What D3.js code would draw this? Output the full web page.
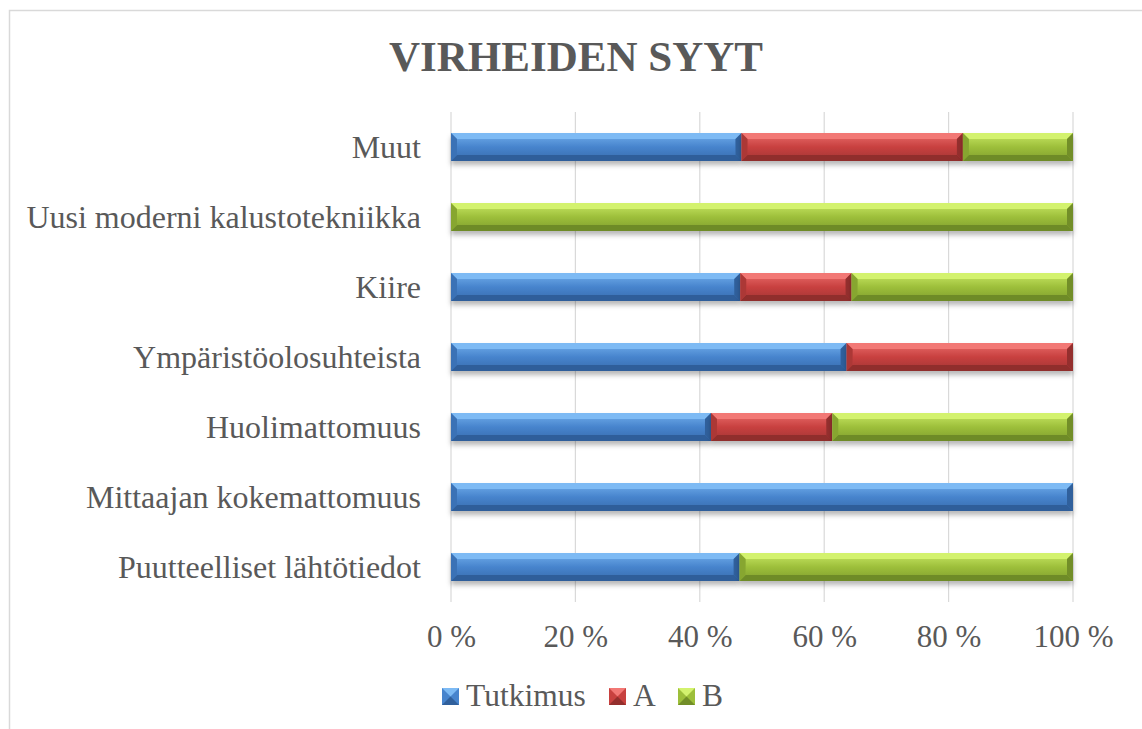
<!DOCTYPE html>
<html><head><meta charset="utf-8">
<script src="https://cdn.jsdelivr.net/npm/d3@7"></script>
<style>body{margin:0;background:#fff}svg{display:block}</style>
</head><body>
<svg id="chart" width="1142" height="729"></svg>
<script>
const categories = ["Muut","Uusi moderni kalustotekniikka","Kiire","Ympäristöolosuhteista","Huolimattomuus","Mittaajan kokemattomuus","Puutteelliset lähtötiedot"];
const seriesNames = ["Tutkimus","A","B"];
const tutkimus = [46.7, 0, 46.5, 63.6, 41.8, 100, 46.4];
const seriesA  = [35.6, 0, 17.9, 36.4, 19.5, 0, 0];
const seriesB  = [17.7, 100, 35.6, 0, 38.7, 0, 53.6];
const tickValues = [0, 0.2, 0.4, 0.6, 0.8, 1.0];
const tickLabels = ["0 %","20 %","40 %","60 %","80 %","100 %"];
const title = "VIRHEIDEN SYYT";

const palette = {
  Tutkimus: {mid:"#4784cd", top:"#7dbaf4", bot:"#3466a6", dark:"#275188"},
  A:        {mid:"#c8413f", top:"#f27875", bot:"#9a3331", dark:"#7e2826"},
  B:        {mid:"#9dbf3a", top:"#d3f26e", bot:"#78962a", dark:"#5f7921"}
};
const FONT = "'Liberation Serif','Times New Roman',serif";

const svg = d3.select("#chart");
const defs = svg.append("defs");
const f = defs.append("filter").attr("id","shadow").attr("x","-5%").attr("y","-30%").attr("width","110%").attr("height","180%");
f.append("feDropShadow").attr("dx",0).attr("dy",4).attr("stdDeviation",2.5).attr("flood-color","#000").attr("flood-opacity",0.28);

seriesNames.forEach(n => {
  const c = palette[n];
  const g = defs.append("linearGradient").attr("id","g_"+n).attr("x1",0).attr("y1",0).attr("x2",0).attr("y2",1);
  [[0,c.top],[0.5,c.mid],[1,c.bot]].forEach(s=>g.append("stop").attr("offset",s[0]).attr("stop-color",s[1]));
});

// frame
svg.append("path").attr("d","M9.5,740 L9.5,10.5 L1150,10.5").attr("fill","none").attr("stroke","#d9d9d9").attr("stroke-width",1.5);

const x = d3.scaleLinear().domain([0,1]).range([451,1073]);
const y = d3.scaleBand().domain(categories).range([112,602]).paddingInner(0.6).paddingOuter(0.3);

// gridlines
svg.append("g").selectAll("line").data(tickValues).join("line")
  .attr("x1",d=>x(d)).attr("x2",d=>x(d)).attr("y1",112).attr("y2",602)
  .attr("stroke","#d9d9d9").attr("stroke-width",1.2);

// axis
const axis = d3.axisBottom(x).tickValues(tickValues).tickFormat((d,i)=>tickLabels[i]).tickSize(0).tickPadding(0);
const ax = svg.append("g").attr("transform","translate(0,647)").call(axis);
ax.select(".domain").remove();
ax.selectAll("text").attr("dy",0).attr("font-family",FONT).attr("font-size",31).attr("fill","#595959");

// category labels
const yAxis = d3.axisLeft(y).tickSize(0).tickPadding(0);
const ay = svg.append("g").attr("transform","translate(421,0)").call(yAxis);
ay.select(".domain").remove();
ay.selectAll("text").attr("dy","0.34em").attr("font-family",FONT).attr("font-size",32).attr("fill","#595959");

// stacked data
const rows = categories.map((c,i)=>({cat:c, Tutkimus:tutkimus[i]/100, A:seriesA[i]/100, B:seriesB[i]/100}));
const stack = d3.stack().keys(seriesNames)(rows);

const bars = svg.append("g");
stack.forEach(layer => {
  const n = layer.key, c = palette[n];
  layer.forEach(d => {
    const w = d[1]-d[0];
    if (w <= 0) return;
    const x0 = x(d[0]), x1 = x(d[1]), y0 = y(d.data.cat), h = y.bandwidth(), y1 = y0+h;
    const b = 6;
    const g = bars.append("g");
    g.append("rect").attr("x",x0).attr("y",y0).attr("width",x1-x0).attr("height",h)
      .attr("fill",c.mid).attr("filter","url(#shadow)");
    g.append("rect").attr("x",x0+b).attr("y",y0+b).attr("width",x1-x0-2*b).attr("height",h-2*b)
      .attr("fill","url(#g_"+n+")").attr("opacity",0.45);
    // bevels
    g.append("path").attr("d",`M${x0},${y0} L${x1},${y0} L${x1-b},${y0+b} L${x0+b},${y0+b} Z`).attr("fill",c.top);
    g.append("path").attr("d",`M${x0},${y1} L${x1},${y1} L${x1-b},${y1-b} L${x0+b},${y1-b} Z`).attr("fill",c.dark).attr("opacity",0.75);
    g.append("path").attr("d",`M${x0},${y0} L${x0+b},${y0+b} L${x0+b},${y1-b} L${x0},${y1} Z`).attr("fill",c.bot).attr("opacity",0.6);
    g.append("path").attr("d",`M${x1},${y0} L${x1-b},${y0+b} L${x1-b},${y1-b} L${x1},${y1} Z`).attr("fill",c.dark).attr("opacity",0.7);
  });
});

// title
svg.append("text").attr("x",576).attr("y",71).attr("text-anchor","middle")
  .attr("font-family",FONT).attr("font-weight","bold")
  .attr("font-size",43).attr("fill","#595959").text(title);

// legend
const legendX = [442, 609, 678];
const lg = svg.append("g");
seriesNames.forEach((n,i)=>{
  const c = palette[n];
  const gx = legendX[i], gy = 688, s = 17;
  lg.append("rect").attr("x",gx).attr("y",gy).attr("width",s).attr("height",s).attr("fill",c.mid);
  lg.append("path").attr("d",`M${gx},${gy} L${gx+s},${gy} L${gx+s/2},${gy+s/2} Z`).attr("fill",c.top);
  lg.append("path").attr("d",`M${gx},${gy+s} L${gx+s},${gy+s} L${gx+s/2},${gy+s/2} Z`).attr("fill",c.dark).attr("opacity",0.7);
  lg.append("text").attr("x",gx+s+7).attr("y",706)
    .attr("font-family",FONT).attr("font-size",31.5).attr("fill","#595959").text(n);
});
</script>
</body></html>
